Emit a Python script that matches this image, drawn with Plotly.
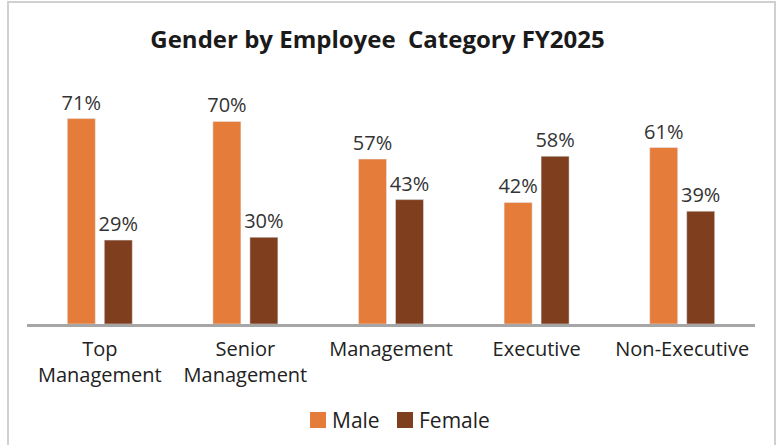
import plotly.graph_objects as go

categories = ["Top<br>Management", "Senior<br>Management", "Management", "Executive", "Non-Executive"]
male = [71, 70, 57, 42, 61]
female = [29, 30, 43, 58, 39]
series_names = ["Male", "Female"]
colors = ["#E57C3A", "#7F3F1E"]

W, H = 780, 445
ml, mr, mt, mb = 27, 25, 94, 121
pw = W - ml - mr
ph = H - mt - mb
FONT = "Open Sans"

fig = go.Figure()
for name, vals, c in zip(series_names, [male, female], colors):
    fig.add_trace(go.Bar(
        x=categories, y=vals, name=name, marker_color=c,
        text=[f"{v}%" for v in vals], textposition="outside",
        constraintext="none",
        textfont=dict(size=20, color="#333333", family=FONT),
        cliponaxis=False, showlegend=False,
    ))

def px2x(px):
    return (px - ml) / pw

def px2y(py):
    return (H - mb - py) / ph

# manual legend (larger swatches like the reference)
legend_x = [310, 397]
shapes = [dict(type="rect", xref="paper", yref="paper",
               x0=px2x(8), x1=px2x(775), y0=px2y(450), y1=px2y(2),
               line=dict(color="#d0d0d0", width=2), fillcolor="rgba(0,0,0,0)", layer="below")]
annotations = []
for name, c, lx in zip(series_names, colors, legend_x):
    shapes.append(dict(type="rect", xref="paper", yref="paper",
                       x0=px2x(lx), x1=px2x(lx + 16), y0=px2y(428), y1=px2y(412),
                       line=dict(width=0), fillcolor=c))
    annotations.append(dict(text=name, xref="paper", yref="paper",
                            x=px2x(lx + 20), y=px2y(420), xanchor="left", yanchor="middle",
                            showarrow=False, font=dict(size=21, color="#222222", family=FONT)))

fig.update_layout(
    width=W, height=H,
    margin=dict(l=ml, r=mr, t=mt, b=mb),
    paper_bgcolor="white", plot_bgcolor="white",
    barmode="group", bargap=0.492, bargroupgap=0.243,
    title=dict(text="<b>Gender by Employee&nbsp; Category FY2025</b>",
               x=px2x(377.5), xref="paper", xanchor="center",
               y=1 - 40 / H, yanchor="middle",
               font=dict(size=24, color="#1a1a1a", family=FONT)),
    font=dict(family=FONT, color="#222222"),
    xaxis=dict(showline=True, linecolor="#a6a6a6", linewidth=2.5, ticks="",
               ticklabelstandoff=5,
               tickfont=dict(size=20, color="#222222", family=FONT)),
    yaxis=dict(range=[0, 79.5], visible=False, showgrid=False),
    showlegend=False,
    shapes=shapes,
    annotations=annotations,
)

fig.write_html("out.html", config={"displayModeBar": False},
               post_script="document.body.style.margin='0';document.body.style.overflow='hidden';")
